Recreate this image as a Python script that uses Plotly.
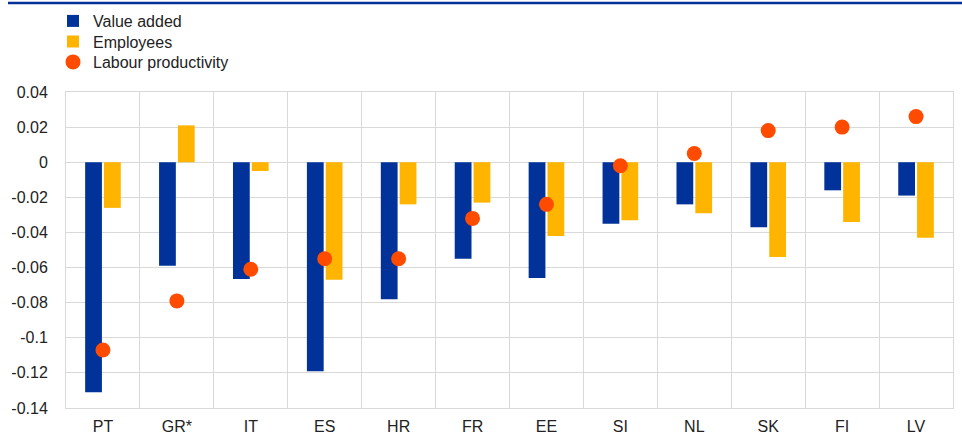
import plotly.graph_objects as go

categories = ["PT", "GR*", "IT", "ES", "HR", "FR", "EE", "SI", "NL", "SK", "FI", "LV"]
value_added = [-0.131, -0.059, -0.0665, -0.119, -0.078, -0.055, -0.066, -0.035, -0.024, -0.037, -0.016, -0.019]
employees = [-0.026, 0.021, -0.005, -0.067, -0.024, -0.023, -0.042, -0.033, -0.029, -0.054, -0.034, -0.043]
labour_productivity = [-0.107, -0.079, -0.061, -0.055, -0.055, -0.032, -0.024, -0.002, 0.005, 0.018, 0.020, 0.026]
y_ticks = [0.04, 0.02, 0, -0.02, -0.04, -0.06, -0.08, -0.1, -0.12, -0.14]
y_ticklabels = ["0.04", "0.02", "0", "-0.02", "-0.04", "-0.06", "-0.08", "-0.1", "-0.12", "-0.14"]

BLUE = "#003299"
YELLOW = "#FFB400"
ORANGE = "#FF4B00"
GRID = "#D9D9D9"
TEXT = "#222222"
FONT = "Liberation Sans, Arial, sans-serif"

L, R, T, B = 66, 9, 92, 31
PW, PH = 962 - L - R, 439 - T - B


def px_x(x):
    return (x - L) / PW


def px_y(y):
    return 1 + (T - y) / PH


fig = go.Figure()
fig.add_trace(go.Bar(x=categories, y=value_added, name="Value added", legend="legend",
                     marker=dict(color=BLUE, line=dict(width=0))))
fig.add_trace(go.Bar(x=categories, y=employees, name="Employees", legend="legend2",
                     marker=dict(color=YELLOW, line=dict(width=0))))
fig.add_trace(go.Scatter(x=categories, y=labour_productivity, name="Labour productivity",
                         legend="legend3", mode="markers",
                         marker=dict(color=ORANGE, size=15, line=dict(width=0))))

leg_common = dict(x=px_x(53), xanchor="left", yanchor="middle",
                  font=dict(size=16, color=TEXT), bgcolor="rgba(0,0,0,0)")

fig.update_layout(
    width=962, height=439,
    margin=dict(l=L, r=R, t=T, b=B, autoexpand=False),
    paper_bgcolor="white", plot_bgcolor="white",
    barmode="group", bargap=0.49, bargroupgap=0.11,
    font=dict(family=FONT, size=16, color=TEXT),
    showlegend=True,
    legend=dict(y=px_y(21), **leg_common),
    legend2=dict(y=px_y(41.5), **leg_common),
    legend3=dict(y=px_y(62), **leg_common),
    shapes=[dict(type="line", xref="paper", yref="paper",
                 x0=px_x(8), x1=px_x(962), y0=px_y(3), y1=px_y(3),
                 line=dict(color=BLUE, width=2.5))],
)
fig.update_xaxes(range=[-0.5, 11.5], tickson="boundaries", showgrid=True, gridcolor=GRID,
                 gridwidth=1, showline=True, linecolor=GRID, mirror=True, ticks="",
                 tickfont=dict(size=16, color=TEXT), ticklabelstandoff=4)
fig.update_yaxes(range=[-0.14, 0.04], tickvals=y_ticks, ticktext=y_ticklabels,
                 showgrid=True, gridcolor=GRID, gridwidth=1, zeroline=True, zerolinecolor=GRID,
                 zerolinewidth=1, showline=True, linecolor=GRID, mirror=True, ticks="",
                 ticklabelstandoff=14, tickfont=dict(size=16, color=TEXT))

fig.write_html("out.html", config={"displayModeBar": False},
               post_script="document.body.style.margin='0';")
